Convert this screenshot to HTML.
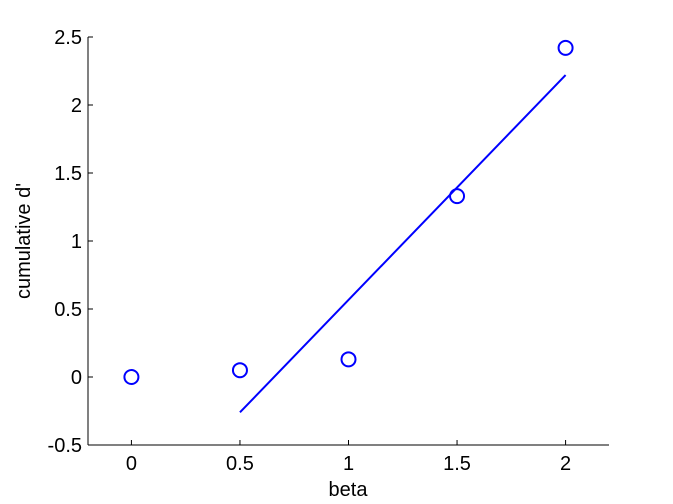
<!DOCTYPE html>
<html><head><meta charset="utf-8"><style>
body{margin:0;background:#fff}
svg{display:block;font-family:"Liberation Sans",Arial,sans-serif}
</style></head><body>
<svg id="chart" width="673" height="504">
<rect width="673" height="504" fill="#fff"/>
<g id="axes"></g>
<g id="marks"></g>
<text x="348" y="496" font-size="20" text-anchor="middle">beta</text>
<text transform="translate(30,241) rotate(-90)" font-size="20" text-anchor="middle">cumulative d'</text>
</svg>
<script>
const xTicks=[0,0.5,1,1.5,2];
const xTickLabels=["0","0.5","1","1.5","2"];
const yTicks=[-0.5,0,0.5,1,1.5,2,2.5];
const yTickLabels=["-0.5","0","0.5","1","1.5","2","2.5"];
const betaValues=[0,0.5,1,1.5,2];
const dprimeValues=[0,0.05,0.13,1.33,2.42];
const fitX=[0.5,2];
const fitY=[-0.26,2.22];

const X0=88,X1=609,Y0=445,Y1=37;
const xMin=-0.2,xMax=2.2,yMin=-0.5,yMax=2.5;
const sx=v=>X0+(v-xMin)/(xMax-xMin)*(X1-X0);
const sy=v=>Y0-(v-yMin)/(yMax-yMin)*(Y0-Y1);
const NS="http://www.w3.org/2000/svg";
function mk(parent,tag,attrs){const e=document.createElementNS(NS,tag);for(const k in attrs)e.setAttribute(k,attrs[k]);parent.appendChild(e);return e;}
const ax=document.getElementById('axes');
let e=mk(ax,'line',{x1:X0,y1:Y0,x2:X1,y2:Y0,stroke:'#000','stroke-width':1});


e=mk(ax,'line',{x1:X0,y1:Y0,x2:X0,y2:Y1,stroke:'#000','stroke-width':1});


xTicks.forEach((t,i)=>{
  mk(ax,'line',{x1:sx(t),y1:Y0,x2:sx(t),y2:Y0-5,stroke:'#000'});
  const tx=mk(ax,'text',{x:sx(t),y:Y0+25,'font-size':20,'text-anchor':'middle'});
  tx.textContent=xTickLabels[i];
  
  
});
yTicks.forEach((t,i)=>{
  mk(ax,'line',{x1:X0,y1:sy(t),x2:X0+5,y2:sy(t),stroke:'#000'});
  const tx=mk(ax,'text',{x:X0-6,y:sy(t)+7,'font-size':20,'text-anchor':'end'});
  tx.textContent=yTickLabels[i];
  
  
});
const mg=document.getElementById('marks');
const fl=mk(mg,'line',{x1:sx(fitX[0]),y1:sy(fitY[0]),x2:sx(fitX[1]),y2:sy(fitY[1]),stroke:'#0000ff','stroke-width':2});


betaValues.forEach((b,i)=>{
  const c=mk(mg,'circle',{cx:sx(b),cy:sy(dprimeValues[i]),r:7,fill:'none',stroke:'#0000ff','stroke-width':2});
  
  
});
</script>
</body></html>
